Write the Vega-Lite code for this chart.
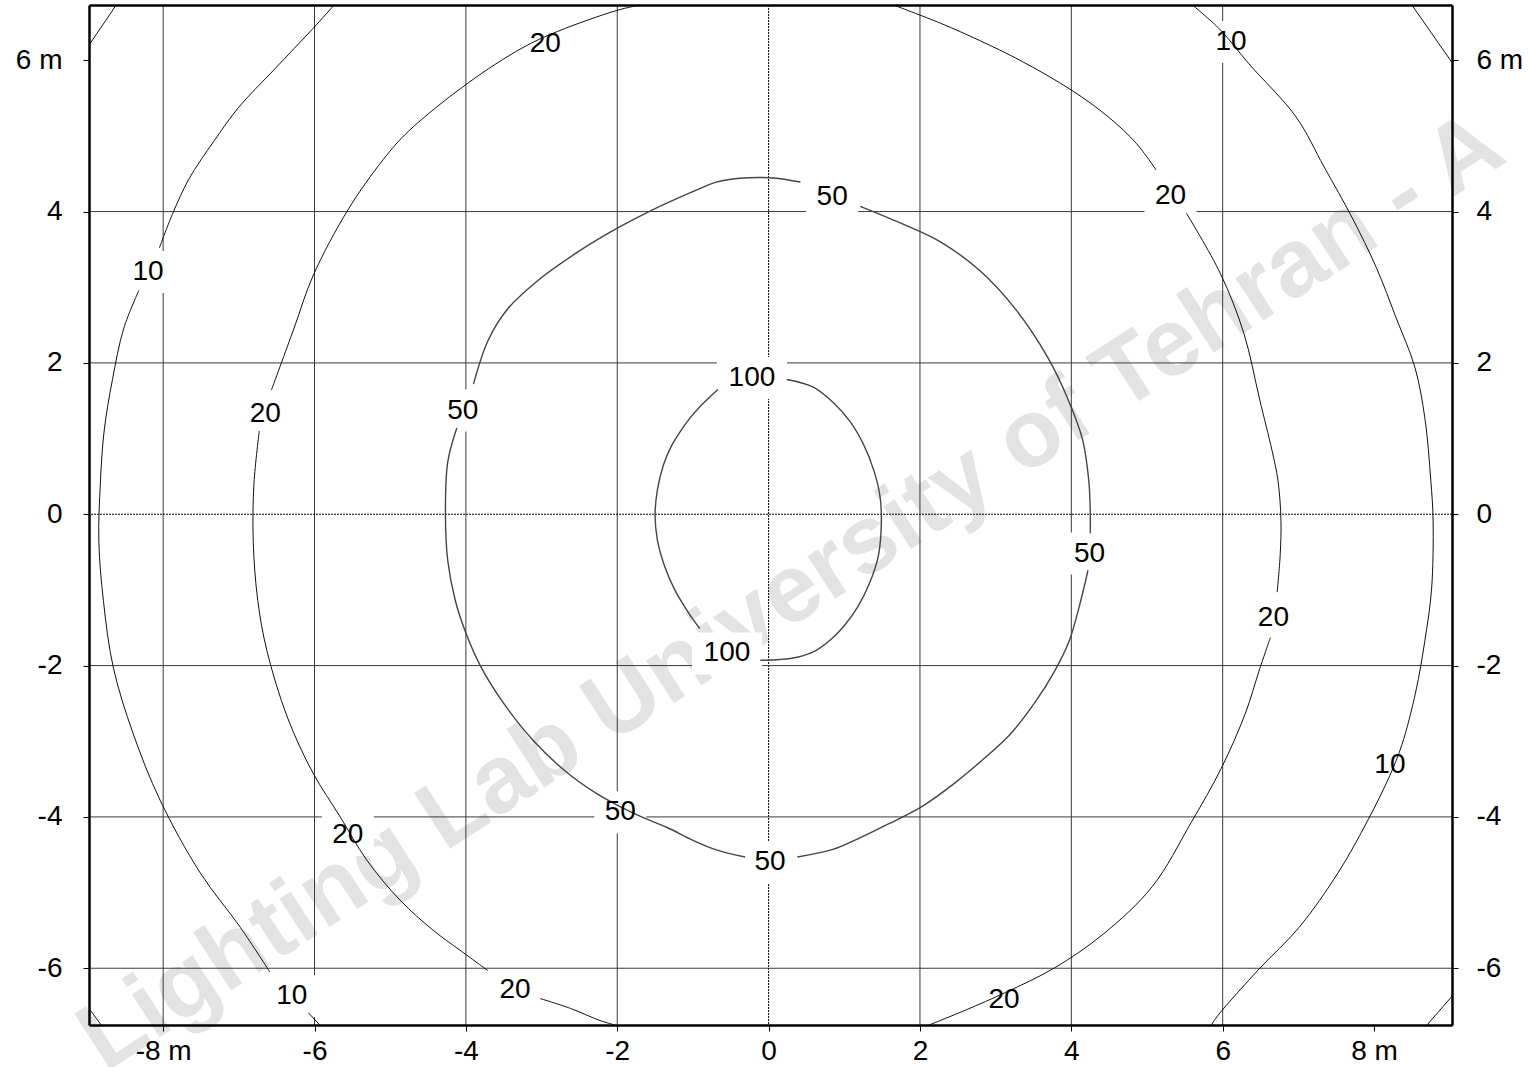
{
  "$schema": "https://vega.github.io/schema/vega-lite/v6.json",
  "width": 1363,
  "height": 1020,
  "autosize": "none",
  "padding": {"left": 89, "top": 5, "right": 76, "bottom": 42},
  "background": "white",
  "config": {
    "view": {"stroke": null},
    "axis": {
      "labelFont": "Liberation Sans",
      "labelFontSize": 28,
      "labelColor": "black",
      "tickColor": "black",
      "tickWidth": 1,
      "tickSize": 6,
      "domainColor": "black",
      "domainWidth": 2.5,
      "grid": false,
      "title": null,
      "labelOverlap": false,
      "labelFlush": false,
      "labelLimit": 400,
      "zindex": 1
    }
  },
  "datasets": {
    "watermark": [{"t": "Lighting Lab University of Tehran - A", "x": -8.77, "y": -7.38}],
    "gridx": [{"v": -8}, {"v": -6}, {"v": -4}, {"v": -2}, {"v": 0}, {"v": 2}, {"v": 4}, {"v": 6}],
    "gridy": [{"v": -6}, {"v": -4}, {"v": -2}, {"v": 0}, {"v": 2}, {"v": 4}],
    "labels": [
      {"t": "10", "x": -8.20, "y": 3.20},
      {"t": "20", "x": -2.95, "y": 6.22},
      {"t": "10", "x": 6.11, "y": 6.24},
      {"t": "20", "x": 5.31, "y": 4.20},
      {"t": "50", "x": 0.84, "y": 4.19},
      {"t": "100", "x": -0.22, "y": 1.80},
      {"t": "20", "x": -6.65, "y": 1.33},
      {"t": "50", "x": -4.04, "y": 1.37},
      {"t": "50", "x": 4.24, "y": -0.52},
      {"t": "20", "x": 6.67, "y": -1.37},
      {"t": "100", "x": -0.55, "y": -1.84},
      {"t": "10", "x": 8.21, "y": -3.32},
      {"t": "50", "x": -1.96, "y": -3.94},
      {"t": "20", "x": -5.56, "y": -4.24},
      {"t": "50", "x": 0.02, "y": -4.60},
      {"t": "20", "x": -3.35, "y": -6.29},
      {"t": "10", "x": -6.30, "y": -6.37},
      {"t": "20", "x": 3.11, "y": -6.42}
    ],
    "contours": [
      {"c": 10, "s": "10a", "x": -8.98, "y": 6.20}, {"c": 10, "s": "10a", "x": -8.62, "y": 6.73},
      {"c": 10, "s": "10b", "x": -5.74, "y": 6.73}, {"c": 10, "s": "10b", "x": -6.02, "y": 6.42}, {"c": 10, "s": "10b", "x": -6.53, "y": 5.88}, {"c": 10, "s": "10b", "x": -7.00, "y": 5.38}, {"c": 10, "s": "10b", "x": -7.33, "y": 4.93}, {"c": 10, "s": "10b", "x": -7.66, "y": 4.43}, {"c": 10, "s": "10b", "x": -7.88, "y": 3.96}, {"c": 10, "s": "10b", "x": -8.05, "y": 3.52},
      {"c": 10, "s": "10c", "x": -8.32, "y": 2.96}, {"c": 10, "s": "10c", "x": -8.52, "y": 2.46}, {"c": 10, "s": "10c", "x": -8.67, "y": 1.78}, {"c": 10, "s": "10c", "x": -8.78, "y": 1.10}, {"c": 10, "s": "10c", "x": -8.83, "y": 0.41}, {"c": 10, "s": "10c", "x": -8.85, "y": -0.36}, {"c": 10, "s": "10c", "x": -8.79, "y": -1.14}, {"c": 10, "s": "10c", "x": -8.66, "y": -2.02}, {"c": 10, "s": "10c", "x": -8.40, "y": -2.89}, {"c": 10, "s": "10c", "x": -8.04, "y": -3.78}, {"c": 10, "s": "10c", "x": -7.51, "y": -4.74}, {"c": 10, "s": "10c", "x": -6.98, "y": -5.46}, {"c": 10, "s": "10c", "x": -6.59, "y": -6.05},
      {"c": 10, "s": "10d", "x": -6.08, "y": -6.59}, {"c": 10, "s": "10d", "x": -5.93, "y": -6.75},
      {"c": 10, "s": "10e", "x": -8.98, "y": -6.53}, {"c": 10, "s": "10e", "x": -8.82, "y": -6.75},
      {"c": 10, "s": "10f", "x": 5.60, "y": 6.73}, {"c": 10, "s": "10f", "x": 5.97, "y": 6.40}, {"c": 10, "s": "10f", "x": 6.34, "y": 5.96}, {"c": 10, "s": "10f", "x": 6.97, "y": 5.25}, {"c": 10, "s": "10f", "x": 7.34, "y": 4.59}, {"c": 10, "s": "10f", "x": 7.71, "y": 3.92}, {"c": 10, "s": "10f", "x": 8.03, "y": 3.26}, {"c": 10, "s": "10f", "x": 8.29, "y": 2.60}, {"c": 10, "s": "10f", "x": 8.54, "y": 1.94}, {"c": 10, "s": "10f", "x": 8.67, "y": 1.28}, {"c": 10, "s": "10f", "x": 8.75, "y": 0.45}, {"c": 10, "s": "10f", "x": 8.78, "y": -0.08}, {"c": 10, "s": "10f", "x": 8.76, "y": -0.99}, {"c": 10, "s": "10f", "x": 8.67, "y": -1.68}, {"c": 10, "s": "10f", "x": 8.55, "y": -2.35}, {"c": 10, "s": "10f", "x": 8.37, "y": -3.04}, {"c": 10, "s": "10f", "x": 8.21, "y": -3.45}, {"c": 10, "s": "10f", "x": 7.92, "y": -4.04}, {"c": 10, "s": "10f", "x": 7.53, "y": -4.73}, {"c": 10, "s": "10f", "x": 7.01, "y": -5.46}, {"c": 10, "s": "10f", "x": 6.49, "y": -6.00}, {"c": 10, "s": "10f", "x": 5.94, "y": -6.62}, {"c": 10, "s": "10f", "x": 5.85, "y": -6.75},
      {"c": 10, "s": "10g", "x": 8.50, "y": 6.73}, {"c": 10, "s": "10g", "x": 9.03, "y": 5.97},
      {"c": 10, "s": "10h", "x": 8.70, "y": -6.75}, {"c": 10, "s": "10h", "x": 9.03, "y": -6.37},
      {"c": 20, "s": "20a", "x": -1.70, "y": 6.73}, {"c": 20, "s": "20a", "x": -2.00, "y": 6.66}, {"c": 20, "s": "20a", "x": -2.79, "y": 6.38}, {"c": 20, "s": "20a", "x": -3.26, "y": 6.16}, {"c": 20, "s": "20a", "x": -3.97, "y": 5.70}, {"c": 20, "s": "20a", "x": -4.76, "y": 5.06}, {"c": 20, "s": "20a", "x": -5.09, "y": 4.69}, {"c": 20, "s": "20a", "x": -5.56, "y": 4.02}, {"c": 20, "s": "20a", "x": -6.02, "y": 3.15}, {"c": 20, "s": "20a", "x": -6.27, "y": 2.46}, {"c": 20, "s": "20a", "x": -6.57, "y": 1.64},
      {"c": 20, "s": "20b", "x": -6.73, "y": 1.10}, {"c": 20, "s": "20b", "x": -6.80, "y": 0.41}, {"c": 20, "s": "20b", "x": -6.81, "y": -0.36}, {"c": 20, "s": "20b", "x": -6.75, "y": -1.14}, {"c": 20, "s": "20b", "x": -6.63, "y": -1.80}, {"c": 20, "s": "20b", "x": -6.36, "y": -2.68}, {"c": 20, "s": "20b", "x": -6.02, "y": -3.42}, {"c": 20, "s": "20b", "x": -5.66, "y": -4.00}, {"c": 20, "s": "20b", "x": -5.31, "y": -4.57}, {"c": 20, "s": "20b", "x": -4.87, "y": -5.10}, {"c": 20, "s": "20b", "x": -4.43, "y": -5.50}, {"c": 20, "s": "20b", "x": -4.08, "y": -5.76}, {"c": 20, "s": "20b", "x": -3.71, "y": -6.03},
      {"c": 20, "s": "20c", "x": -3.02, "y": -6.40}, {"c": 20, "s": "20c", "x": -2.62, "y": -6.53}, {"c": 20, "s": "20c", "x": -2.23, "y": -6.69}, {"c": 20, "s": "20c", "x": -2.03, "y": -6.75},
      {"c": 20, "s": "20d", "x": 1.65, "y": 6.73}, {"c": 20, "s": "20d", "x": 2.27, "y": 6.49}, {"c": 20, "s": "20d", "x": 2.79, "y": 6.26}, {"c": 20, "s": "20d", "x": 3.32, "y": 6.00}, {"c": 20, "s": "20d", "x": 4.01, "y": 5.60}, {"c": 20, "s": "20d", "x": 4.49, "y": 5.25}, {"c": 20, "s": "20d", "x": 4.86, "y": 4.90}, {"c": 20, "s": "20d", "x": 5.12, "y": 4.55},
      {"c": 20, "s": "20e", "x": 5.52, "y": 3.98}, {"c": 20, "s": "20e", "x": 5.97, "y": 3.18}, {"c": 20, "s": "20e", "x": 6.28, "y": 2.39}, {"c": 20, "s": "20e", "x": 6.49, "y": 1.51}, {"c": 20, "s": "20e", "x": 6.65, "y": 0.85}, {"c": 20, "s": "20e", "x": 6.73, "y": 0.45}, {"c": 20, "s": "20e", "x": 6.77, "y": -0.08}, {"c": 20, "s": "20e", "x": 6.76, "y": -0.53}, {"c": 20, "s": "20e", "x": 6.72, "y": -1.03},
      {"c": 20, "s": "20f", "x": 6.63, "y": -1.63}, {"c": 20, "s": "20f", "x": 6.49, "y": -2.04}, {"c": 20, "s": "20f", "x": 6.30, "y": -2.63}, {"c": 20, "s": "20f", "x": 5.98, "y": -3.36}, {"c": 20, "s": "20f", "x": 5.58, "y": -4.08}, {"c": 20, "s": "20f", "x": 5.07, "y": -4.92}, {"c": 20, "s": "20f", "x": 4.42, "y": -5.55}, {"c": 20, "s": "20f", "x": 3.77, "y": -6.00}, {"c": 20, "s": "20f", "x": 3.13, "y": -6.32}, {"c": 20, "s": "20f", "x": 2.61, "y": -6.55}, {"c": 20, "s": "20f", "x": 2.12, "y": -6.75},
      {"c": 50, "s": "50a", "x": -3.90, "y": 1.72}, {"c": 50, "s": "50a", "x": -3.71, "y": 2.29}, {"c": 50, "s": "50a", "x": -3.46, "y": 2.70}, {"c": 50, "s": "50a", "x": -3.06, "y": 3.08}, {"c": 50, "s": "50a", "x": -2.53, "y": 3.46}, {"c": 50, "s": "50a", "x": -2.00, "y": 3.78}, {"c": 50, "s": "50a", "x": -1.54, "y": 4.02}, {"c": 50, "s": "50a", "x": -1.01, "y": 4.26}, {"c": 50, "s": "50a", "x": -0.69, "y": 4.39}, {"c": 50, "s": "50a", "x": -0.38, "y": 4.44}, {"c": 50, "s": "50a", "x": -0.11, "y": 4.45}, {"c": 50, "s": "50a", "x": 0.10, "y": 4.44}, {"c": 50, "s": "50a", "x": 0.42, "y": 4.39},
      {"c": 50, "s": "50b", "x": 1.21, "y": 4.07}, {"c": 50, "s": "50b", "x": 1.74, "y": 3.85}, {"c": 50, "s": "50b", "x": 2.27, "y": 3.60}, {"c": 50, "s": "50b", "x": 2.79, "y": 3.22}, {"c": 50, "s": "50b", "x": 3.27, "y": 2.70}, {"c": 50, "s": "50b", "x": 3.69, "y": 2.07}, {"c": 50, "s": "50b", "x": 3.96, "y": 1.51}, {"c": 50, "s": "50b", "x": 4.15, "y": 0.98}, {"c": 50, "s": "50b", "x": 4.23, "y": 0.45}, {"c": 50, "s": "50b", "x": 4.25, "y": 0.05}, {"c": 50, "s": "50b", "x": 4.25, "y": -0.25},
      {"c": 50, "s": "50c", "x": 4.22, "y": -0.74}, {"c": 50, "s": "50c", "x": 4.13, "y": -1.12}, {"c": 50, "s": "50c", "x": 3.97, "y": -1.68}, {"c": 50, "s": "50c", "x": 3.77, "y": -2.09}, {"c": 50, "s": "50c", "x": 3.51, "y": -2.50}, {"c": 50, "s": "50c", "x": 3.19, "y": -2.91}, {"c": 50, "s": "50c", "x": 2.81, "y": -3.26}, {"c": 50, "s": "50c", "x": 2.45, "y": -3.56}, {"c": 50, "s": "50c", "x": 2.03, "y": -3.86}, {"c": 50, "s": "50c", "x": 1.57, "y": -4.10}, {"c": 50, "s": "50c", "x": 1.18, "y": -4.29}, {"c": 50, "s": "50c", "x": 0.85, "y": -4.43}, {"c": 50, "s": "50c", "x": 0.38, "y": -4.53},
      {"c": 50, "s": "50d", "x": -0.31, "y": -4.53}, {"c": 50, "s": "50d", "x": -0.68, "y": -4.44}, {"c": 50, "s": "50d", "x": -1.00, "y": -4.31}, {"c": 50, "s": "50d", "x": -1.34, "y": -4.14}, {"c": 50, "s": "50d", "x": -1.70, "y": -3.99}, {"c": 50, "s": "50d", "x": -1.95, "y": -3.87}, {"c": 50, "s": "50d", "x": -2.26, "y": -3.70}, {"c": 50, "s": "50d", "x": -2.68, "y": -3.40}, {"c": 50, "s": "50d", "x": -3.11, "y": -2.99}, {"c": 50, "s": "50d", "x": -3.50, "y": -2.50}, {"c": 50, "s": "50d", "x": -3.80, "y": -2.02}, {"c": 50, "s": "50d", "x": -4.00, "y": -1.57}, {"c": 50, "s": "50d", "x": -4.14, "y": -1.14}, {"c": 50, "s": "50d", "x": -4.24, "y": -0.61}, {"c": 50, "s": "50d", "x": -4.27, "y": -0.01}, {"c": 50, "s": "50d", "x": -4.24, "y": 0.69}, {"c": 50, "s": "50d", "x": -4.12, "y": 1.14},
      {"c": 100, "s": "100a", "x": 0.24, "y": 1.78}, {"c": 100, "s": "100a", "x": 0.59, "y": 1.68}, {"c": 100, "s": "100a", "x": 0.85, "y": 1.48}, {"c": 100, "s": "100a", "x": 1.08, "y": 1.22}, {"c": 100, "s": "100a", "x": 1.26, "y": 0.91}, {"c": 100, "s": "100a", "x": 1.39, "y": 0.58}, {"c": 100, "s": "100a", "x": 1.47, "y": 0.25}, {"c": 100, "s": "100a", "x": 1.49, "y": -0.08}, {"c": 100, "s": "100a", "x": 1.45, "y": -0.55}, {"c": 100, "s": "100a", "x": 1.33, "y": -0.92}, {"c": 100, "s": "100a", "x": 1.18, "y": -1.22}, {"c": 100, "s": "100a", "x": 1.01, "y": -1.46}, {"c": 100, "s": "100a", "x": 0.83, "y": -1.65}, {"c": 100, "s": "100a", "x": 0.61, "y": -1.81}, {"c": 100, "s": "100a", "x": 0.38, "y": -1.89}, {"c": 100, "s": "100a", "x": 0.15, "y": -1.92}, {"c": 100, "s": "100a", "x": -0.11, "y": -1.93},
      {"c": 100, "s": "100b", "x": -0.91, "y": -1.51}, {"c": 100, "s": "100b", "x": -1.06, "y": -1.30}, {"c": 100, "s": "100b", "x": -1.24, "y": -1.00}, {"c": 100, "s": "100b", "x": -1.38, "y": -0.67}, {"c": 100, "s": "100b", "x": -1.47, "y": -0.34}, {"c": 100, "s": "100b", "x": -1.50, "y": -0.01}, {"c": 100, "s": "100b", "x": -1.47, "y": 0.32}, {"c": 100, "s": "100b", "x": -1.39, "y": 0.65}, {"c": 100, "s": "100b", "x": -1.28, "y": 0.91}, {"c": 100, "s": "100b", "x": -1.17, "y": 1.09}, {"c": 100, "s": "100b", "x": -1.04, "y": 1.27}, {"c": 100, "s": "100b", "x": -0.88, "y": 1.45}, {"c": 100, "s": "100b", "x": -0.67, "y": 1.65}
    ]
  },
  "resolve": {"axis": {"x": "independent", "y": "independent"}},
  "layer": [
    {
      "data": {"name": "watermark"},
      "mark": {"type": "text", "align": "left", "baseline": "alphabetic", "angle": -33, "font": "Liberation Sans", "fontWeight": "bold", "fontSize": 96, "color": "#e3e3e3"},
      "encoding": {
        "x": {"field": "x", "type": "quantitative", "scale": {"domain": [-8.98, 9.03], "nice": false, "zero": false}, "axis": null},
        "y": {"field": "y", "type": "quantitative", "scale": {"domain": [-6.75, 6.73], "nice": false, "zero": false}, "axis": null},
        "text": {"field": "t"}
      }
    },
    {
      "data": {"name": "gridx"},
      "mark": {"type": "rule", "strokeWidth": 1},
      "encoding": {
        "x": {"field": "v", "type": "quantitative", "scale": {"domain": [-8.98, 9.03], "nice": false, "zero": false}, "axis": {"orient": "top", "labels": false, "ticks": false, "domain": true, "zindex": 1}},
        "color": {"condition": {"test": "datum.v == 0", "value": "#000000"}, "value": "#3a3a3a"},
        "strokeDash": {"condition": {"test": "datum.v == 0", "value": [2, 1]}, "value": [1, 0]}
      }
    },
    {
      "data": {"name": "gridy"},
      "mark": {"type": "rule", "strokeWidth": 1},
      "encoding": {
        "y": {"field": "v", "type": "quantitative", "scale": {"domain": [-6.75, 6.73], "nice": false, "zero": false}, "axis": {"orient": "right", "values": [-6, -4, -2, 0, 2, 4, 6], "labelExpr": "datum.value == 6 ? '6 m' : datum.value + ''", "labelPadding": 18, "labelAlign": "left", "zindex": 1}},
        "color": {"condition": {"test": "datum.v == 0", "value": "#000000"}, "value": "#3a3a3a"},
        "strokeDash": {"condition": {"test": "datum.v == 0", "value": [2, 1]}, "value": [1, 0]}
      }
    },
    {
      "data": {"name": "labels"},
      "transform": [{"filter": "length(datum.t) == 2"}],
      "mark": {"type": "point", "filled": true, "shape": "M-1.24,-1H1.24V1H-1.24Z", "size": 1764, "color": "white", "opacity": 1, "strokeWidth": 0},
      "encoding": {
        "x": {"field": "x", "type": "quantitative", "axis": null},
        "y": {"field": "y", "type": "quantitative", "axis": null}
      }
    },
    {
      "data": {"name": "labels"},
      "transform": [{"filter": "length(datum.t) == 3"}],
      "mark": {"type": "point", "filled": true, "shape": "M-1.67,-1H1.67V1H-1.67Z", "size": 1764, "color": "white", "opacity": 1, "strokeWidth": 0},
      "encoding": {
        "x": {"field": "x", "type": "quantitative", "axis": null},
        "y": {"field": "y", "type": "quantitative", "axis": null}
      }
    },
    {
      "data": {"name": "contours"},
      "transform": [{"window": [{"op": "row_number", "as": "i"}]}],
      "mark": {"type": "line", "clip": true, "interpolate": "catmull-rom"},
      "encoding": {
        "x": {"field": "x", "type": "quantitative", "scale": {"domain": [-8.98, 9.03], "nice": false, "zero": false}, "axis": {"orient": "bottom", "values": [-8, -6, -4, -2, 0, 2, 4, 6, 8], "labelExpr": "abs(datum.value) == 8 ? datum.value + ' m' : datum.value + ''", "labelPadding": 6, "zindex": 1}},
        "y": {"field": "y", "type": "quantitative", "scale": {"domain": [-6.75, 6.73], "nice": false, "zero": false}, "axis": {"orient": "left", "values": [-6, -4, -2, 0, 2, 4, 6], "labelExpr": "datum.value == 6 ? '6 m' : datum.value + ''", "labelPadding": 21, "zindex": 1}},
        "detail": {"field": "s"},
        "order": {"field": "i", "type": "quantitative"},
        "color": {"condition": {"test": "datum.c >= 50", "value": "#454545"}, "value": "#111111"},
        "strokeWidth": {"condition": {"test": "datum.c >= 50", "value": 1.4}, "value": 1}
      }
    },
    {
      "data": {"name": "labels"},
      "mark": {"type": "text", "font": "Liberation Sans", "fontSize": 28, "color": "black", "align": "center", "baseline": "middle"},
      "encoding": {
        "x": {"field": "x", "type": "quantitative", "axis": null},
        "y": {"field": "y", "type": "quantitative", "axis": null},
        "text": {"field": "t"}
      }
    }
  ]
}
